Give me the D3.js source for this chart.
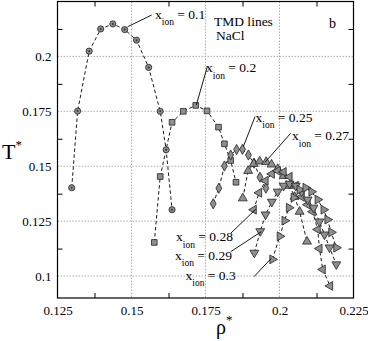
<!DOCTYPE html>
<html>
<head>
<meta charset="utf-8">
<script src="https://cdn.jsdelivr.net/npm/d3@7"></script>
<style>
  body { margin: 0; background: #fff; }
  svg text { font-family: "Liberation Serif", "DejaVu Serif", serif; }
</style>
</head>
<body>
<script>
// TMD lines, one array per ion fraction: [rho*, T*]
var ion01 = [[0.1298,0.1402],[0.1318,0.1751],[0.1357,0.2024],[0.1396,0.2125],[0.1437,0.2148],
  [0.1477,0.2122],[0.1517,0.2074],[0.1558,0.195],[0.1597,0.175],[0.1617,0.1575],[0.1637,0.1302]];
var ion02 = [[0.1577,0.1153],[0.1597,0.1453],[0.1637,0.17],[0.1675,0.175],[0.1717,0.1777],
  [0.1755,0.1752],[0.1794,0.1678],[0.1814,0.1602],[0.1835,0.1526],[0.1853,0.1427]];
var ion025 = [[0.1776,0.1329],[0.1795,0.14],[0.1814,0.1501],[0.1835,0.1551],[0.1855,0.1576],
  [0.1875,0.1577],[0.1895,0.1551],[0.1914,0.1514],[0.1934,0.145],[0.1954,0.14]];
var ion027 = [[0.1876,0.1354],[0.1894,0.1479],[0.1913,0.1511],[0.1933,0.1522],[0.1955,0.152],
  [0.1973,0.1508],[0.1994,0.1488],[0.2014,0.1456],[0.2034,0.1411],[0.2051,0.1361],
  [0.2068,0.1293],[0.2093,0.1157]];
var ion028 = [[0.1913,0.1302],[0.1931,0.1379],[0.1953,0.1434],[0.1974,0.1465],[0.1994,0.1479],
  [0.2014,0.1474],[0.2034,0.1452],[0.2055,0.1411],[0.2075,0.1361],[0.2095,0.1325],
  [0.2112,0.1293],[0.2129,0.1212],[0.2135,0.1125],[0.2146,0.103],[0.2171,0.0955]];
var ion029 = [[0.1915,0.1106],[0.1935,0.1204],[0.1953,0.128],[0.1974,0.1338],[0.1994,0.1384],
  [0.2014,0.1411],[0.2034,0.142],[0.2055,0.1411],[0.2075,0.1384],[0.2095,0.1348],
  [0.2115,0.1311],[0.2135,0.1248],[0.2152,0.1189],[0.2169,0.113],[0.2192,0.1053]];
var ion03 = [[0.1976,0.1076],[0.2001,0.1181],[0.2017,0.1252],[0.2032,0.1311],[0.2048,0.1357],
  [0.2068,0.1393],[0.2088,0.1402],[0.2108,0.1384],[0.2129,0.1348],[0.2149,0.1302],
  [0.2162,0.1257],[0.2175,0.1199],[0.2192,0.1129]];

var xTicks = [0.125, 0.15, 0.175, 0.2, 0.225];
var xTickLabels = ["0.125", "0.15", "0.175", "0.2", "0.225"];
var yTicks = [0.1, 0.125, 0.15, 0.175, 0.2];
var yTickLabels = ["0.1", "0.125", "0.15", "0.175", "0.2"];

var svgWidth = 368, svgHeight = 341;
var plotLeft = 57.5, plotRight = 353.5, plotTop = 1.5, plotBottom = 298;

var svg = d3.select("body").append("svg")
  .attr("width", svgWidth).attr("height", svgHeight);

var xScale = d3.scaleLinear().domain([0.125, 0.225]).range([plotLeft, plotRight]);
var yScale = d3.scaleLinear().domain([0.09, 0.225]).range([plotBottom, plotTop]);

// grid
svg.append("g").selectAll("line").data(xTicks.slice(1, -1)).enter().append("line")
  .attr("x1", function(d) { return xScale(d); }).attr("x2", function(d) { return xScale(d); })
  .attr("y1", plotTop).attr("y2", plotBottom)
  .attr("stroke", "#999").attr("stroke-width", 0.8).attr("stroke-dasharray", "1.5,1.5");
svg.append("g").selectAll("line").data(yTicks).enter().append("line")
  .attr("y1", function(d) { return yScale(d); }).attr("y2", function(d) { return yScale(d); })
  .attr("x1", plotLeft).attr("x2", plotRight)
  .attr("stroke", "#999").attr("stroke-width", 0.8).attr("stroke-dasharray", "1.5,1.5");

// minor ticks (inside, all four sides)
var xMinor = [0.1375, 0.1625, 0.1875, 0.2125];
var yMinor = [0.1125, 0.1375, 0.1625, 0.1875, 0.2125];
svg.append("g").call(d3.axisBottom(xScale).tickValues(xMinor).tickSize(-5).tickFormat(""))
  .attr("transform", "translate(0," + plotBottom + ")");
svg.append("g").call(d3.axisTop(xScale).tickValues(xMinor).tickSize(-5).tickFormat(""))
  .attr("transform", "translate(0," + plotTop + ")");
svg.append("g").call(d3.axisLeft(yScale).tickValues(yMinor).tickSize(-5).tickFormat(""))
  .attr("transform", "translate(" + plotLeft + ",0)");
svg.append("g").call(d3.axisRight(yScale).tickValues(yMinor).tickSize(-5).tickFormat(""))
  .attr("transform", "translate(" + plotRight + ",0)");
svg.selectAll(".domain").remove();

// tick labels
svg.append("g").call(d3.axisBottom(xScale).tickValues(xTicks).tickSize(0).tickPadding(8)
    .tickFormat(function(d, i) { return xTickLabels[i]; }))
  .attr("transform", "translate(0," + plotBottom + ")")
  .call(function(g) { g.select(".domain").remove(); })
  .selectAll("text").attr("font-size", 13).attr("fill", "#000")
  .attr("font-family", "Liberation Serif");
svg.append("g").call(d3.axisLeft(yScale).tickValues(yTicks).tickSize(0).tickPadding(6)
    .tickFormat(function(d, i) { return yTickLabels[i]; }))
  .attr("transform", "translate(" + plotLeft + ",0)")
  .call(function(g) { g.select(".domain").remove(); })
  .selectAll("text").attr("font-size", 13).attr("fill", "#000")
  .attr("font-family", "Liberation Serif");

// frame
svg.append("rect").attr("x", plotLeft).attr("y", plotTop)
  .attr("width", plotRight - plotLeft).attr("height", plotBottom - plotTop)
  .attr("fill", "none").attr("stroke", "#000").attr("stroke-width", 1.2);

// series
var series = [
  { data: ion01, sym: d3.symbolCircle, size: 30, rot: 0 },
  { data: ion02, sym: d3.symbolSquare, size: 32, rot: 0 },
  { data: ion025, sym: d3.symbolDiamond, size: 30, rot: 0 },
  { data: ion027, sym: d3.symbolTriangle, size: 34, rot: 0 },
  { data: ion028, sym: d3.symbolTriangle, size: 34, rot: -90 },
  { data: ion029, sym: d3.symbolTriangle, size: 34, rot: 180 },
  { data: ion03, sym: d3.symbolTriangle, size: 34, rot: 90 }
];

var line = d3.line()
  .x(function(d) { return xScale(d[0]); })
  .y(function(d) { return yScale(d[1]); });

series.forEach(function(s) {
  svg.append("path").attr("d", line(s.data))
    .attr("fill", "none").attr("stroke", "#000").attr("stroke-width", 0.9)
    .attr("stroke-dasharray", "3.5,2.5");
});
series.forEach(function(s) {
  svg.append("g").selectAll("path").data(s.data).enter().append("path")
    .attr("d", d3.symbol().type(s.sym).size(s.size))
    .attr("transform", function(d) {
      return "translate(" + xScale(d[0]) + "," + yScale(d[1]) + ") rotate(" + s.rot + ")";
    })
    .attr("fill", "#8f8f8f").attr("stroke", "#222").attr("stroke-width", 0.8);
  if (s.sym === d3.symbolCircle) {
    svg.append("g").selectAll("circle").data(s.data).enter().append("circle")
      .attr("cx", function(d) { return xScale(d[0]); })
      .attr("cy", function(d) { return yScale(d[1]); })
      .attr("r", 1).attr("fill", "#333");
  }
});

// labels with leader lines
var labels = [
  { v: "0.1", x: 155, y: 18.5, lx1: 127.7, ly1: 26.7, lx2: 151.7, ly2: 15 },
  { v: "0.2", x: 206, y: 72, lx1: 196.3, ly1: 105, lx2: 207.3, ly2: 66.7 },
  { v: "0.25", x: 255.5, y: 121.5, lx1: 243.3, ly1: 146.7, lx2: 255, ly2: 116.7 },
  { v: "0.27", x: 292, y: 140, lx1: 265, ly1: 162.3, lx2: 290.7, ly2: 133.3 },
  { v: "0.28", x: 176, y: 241, lx1: 230.7, ly1: 233.3, lx2: 255.7, ly2: 209.3 },
  { v: "0.29", x: 175, y: 259.5, lx1: 230.7, ly1: 251.7, lx2: 261.3, ly2: 231.7 },
  { v: "0.3", x: 185.5, y: 279.5, lx1: 254, ly1: 276.7, lx2: 271.3, ly2: 258.3 }
];
labels.forEach(function(l) {
  svg.append("line").attr("x1", l.lx1).attr("y1", l.ly1).attr("x2", l.lx2).attr("y2", l.ly2)
    .attr("stroke", "#000").attr("stroke-width", 0.9);
  var t = svg.append("text").attr("x", l.x).attr("y", l.y).attr("font-size", 13.5).attr("fill", "#000");
  t.append("tspan").text("x");
  t.append("tspan").attr("dy", 6.5).attr("font-size", 9.5).text("ion");
  t.append("tspan").attr("dy", -6.5).text(" = " + l.v);
});

svg.append("text").attr("x", 214).attr("y", 25.5).attr("font-size", 13.5).text("TMD lines");
svg.append("text").attr("x", 216).attr("y", 40).attr("font-size", 13.5).text("NaCl");
svg.append("text").attr("x", 329).attr("y", 28).attr("font-size", 14).text("b");

// axis titles
var tt = svg.append("text").attr("x", 2).attr("y", 159).attr("font-size", 22);
tt.append("tspan").text("T");
tt.append("tspan").attr("dy", -10).attr("font-size", 13).text("*");
var rt = svg.append("text").attr("x", 216).attr("y", 334).attr("font-size", 20)
  .attr("font-family", "Liberation Sans");
rt.append("tspan").text("ρ");
rt.append("tspan").attr("dy", -10).attr("font-size", 13).text("*");
</script>
</body>
</html>
